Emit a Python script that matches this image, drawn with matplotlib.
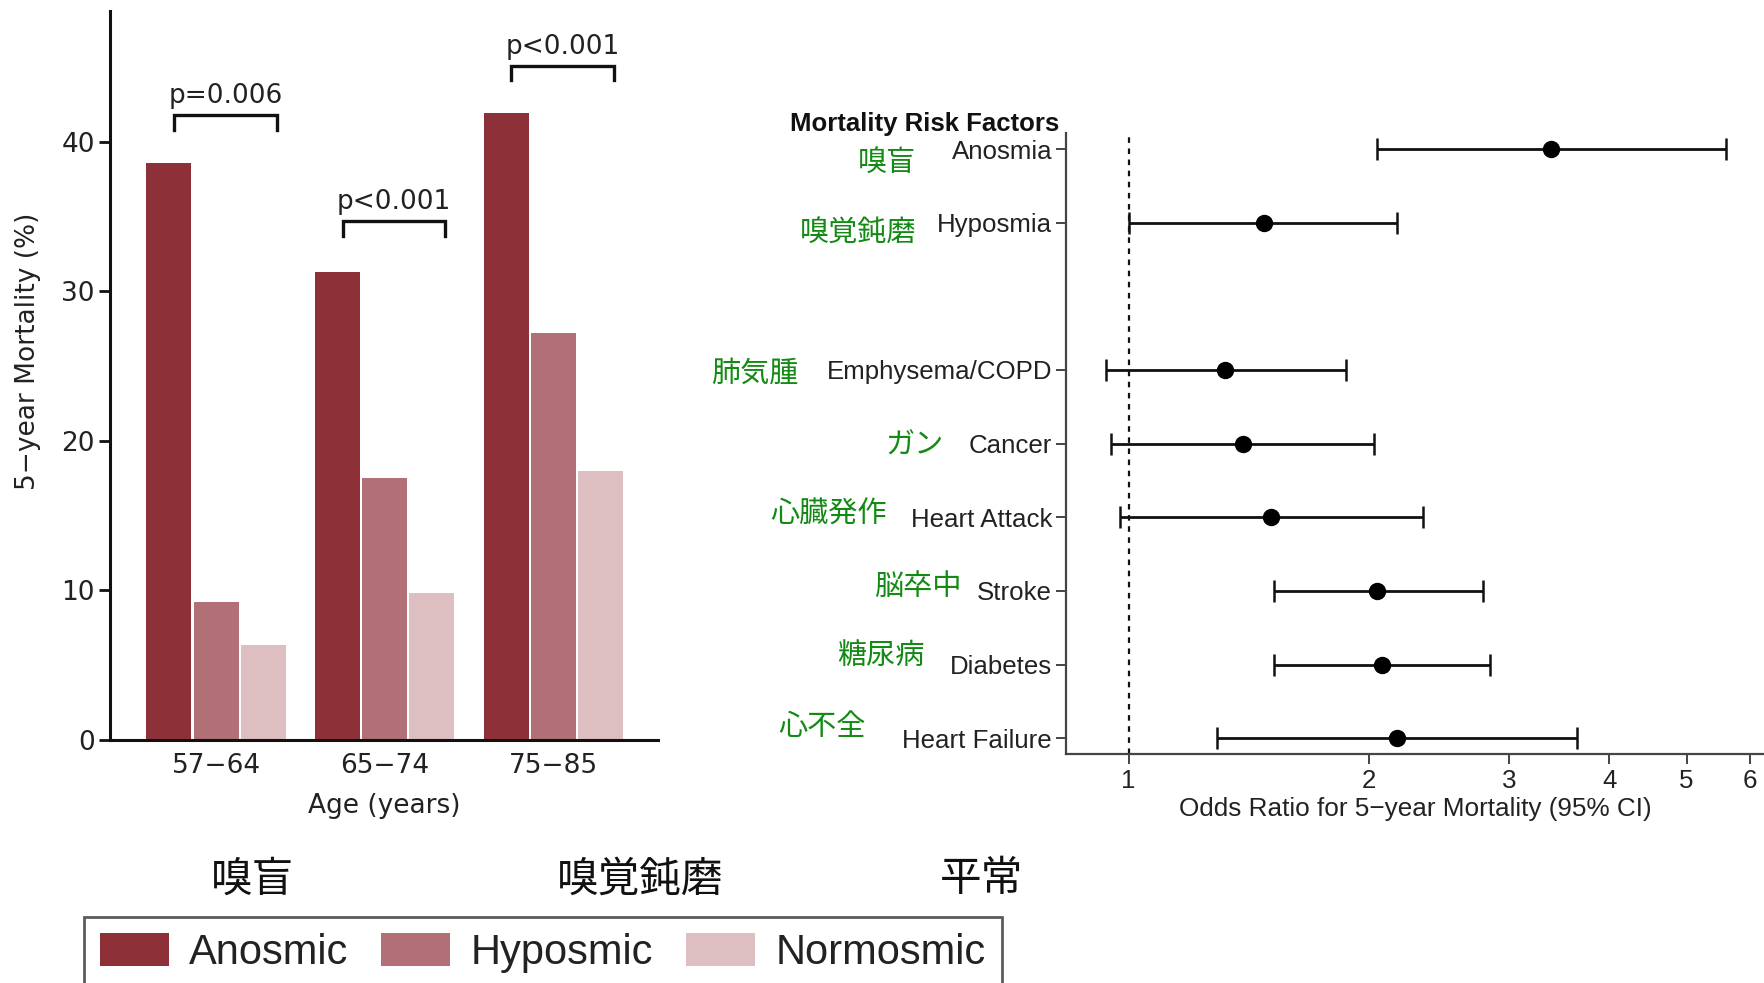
import numpy as np
import matplotlib
matplotlib.use("Agg")
import matplotlib.pyplot as plt
from matplotlib.patches import Patch

# ---------------- data ----------------
age_groups = ["57\u221264", "65\u221274", "75\u221285"]
anosmic = [38.6, 31.3, 41.9]
hyposmic = [9.2, 17.5, 27.2]
normosmic = [6.3, 9.8, 18.0]
p_labels = ["p=0.006", "p<0.001", "p<0.001"]
bracket_heights = [41.8, 34.7, 45.1]

group_names = ["Anosmic", "Hyposmic", "Normosmic"]
group_names_jp = ["嗅盲", "嗅覚鈍磨", "平常"]

factors = ["Anosmia", "Hyposmia", "Emphysema/COPD", "Cancer", "Heart Attack",
           "Stroke", "Diabetes", "Heart Failure"]
factors_jp = ["嗅盲", "嗅覚鈍磨", "肺気腫", "ガン", "心臓発作", "脳卒中", "糖尿病", "心不全"]
factor_rows = [0, 1, 3, 4, 5, 6, 7, 8]
odds_ratio = [3.38, 1.48, 1.32, 1.39, 1.51, 2.05, 2.08, 2.17]
ci_low = [2.05, 1.00, 0.936, 0.952, 0.975, 1.52, 1.52, 1.29]
ci_high = [5.60, 2.17, 1.87, 2.03, 2.34, 2.78, 2.84, 3.64]
or_ticks = [1, 2, 3, 4, 5, 6]

# ---------------- style ----------------
colors = ["#8E3038", "#B07075", "#DDBEC1"]
jp_green = "#138A13"
W, H = 1764, 983
CJK = ["Noto Sans CJK JP", "DejaVu Sans"]

fig = plt.figure(figsize=(W / 100, H / 100), dpi=100)

def fx(px):
    return px / W

def fy(py):
    return 1 - py / H

# ---------------- left panel: bar chart ----------------
axL = fig.add_axes([fx(110), fy(739.5), fx(657.6 - 110), (739.5 - 11) / H])
x = np.arange(len(age_groups))
step = 0.279
bw = 0.267
for i, vals in enumerate([anosmic, hyposmic, normosmic]):
    axL.bar(x + (i - 1) * step, vals, width=bw, color=colors[i],
            edgecolor="none", zorder=2)

axL.set_xlim(-0.629, 2.62)
axL.set_ylim(0, 48.75)
axL.set_yticks([0, 10, 20, 30, 40])
axL.set_xticks(x)
axL.set_xticklabels(age_groups)
for s in ["top", "right"]:
    axL.spines[s].set_visible(False)
for s in ["left", "bottom"]:
    axL.spines[s].set_linewidth(2.2)
    axL.spines[s].set_color("#111111")
axL.tick_params(axis="y", length=8, width=2.0, labelsize=19, pad=3,
                labelcolor="#222222", color="#111111")
axL.tick_params(axis="x", length=0, labelsize=19, pad=10, labelcolor="#222222")
for lab in axL.get_xticklabels() + axL.get_yticklabels():
    lab.set_family("DejaVu Sans")
axL.set_ylabel("5\u2212year Mortality (%)", fontsize=19, family="DejaVu Sans",
               color="#222222")
axL.yaxis.set_label_coords(-0.126, 0.533)
axL.set_xlabel("Age (years)", fontsize=19, family="DejaVu Sans", color="#222222",
               labelpad=10)

# significance brackets between anosmic and normosmic bars
for i, (lab, h) in enumerate(zip(p_labels, bracket_heights)):
    x0 = x[i] - step + 0.03
    x1 = x[i] + step + 0.08
    axL.plot([x0, x0, x1, x1], [h - 1.0, h, h, h - 1.0], color="#111111",
             lw=2.4, solid_joinstyle="miter", clip_on=False)
    axL.text((x0 + x1) / 2, h + 0.4, lab, ha="center", va="bottom", fontsize=19,
             family="DejaVu Sans", color="#222222", clip_on=False)

# ---------------- right panel: forest plot ----------------
axR = fig.add_axes([fx(1066), fy(754), fx(W - 1066), (754 - 133) / H])
rows = np.array(factor_rows)
orr = np.array(odds_ratio)
xerr = np.vstack([orr - np.array(ci_low), np.array(ci_high) - orr])
axR.errorbar(orr, rows, xerr=xerr, fmt="o", color="black", ecolor="#111111",
             elinewidth=2.0, capsize=8, capthick=1.8, markersize=11.5, zorder=3)
axR.axvline(1, color="#111111", lw=1.6, ls=(0, (2.5, 2.5)), zorder=1)
axR.set_xscale("log")
axR.set_xlim(0.835, 6.25)
axR.set_ylim(8.214, -0.218)
axR.set_xticks(or_ticks)
axR.set_xticklabels([str(t) for t in or_ticks])
axR.xaxis.set_minor_locator(matplotlib.ticker.NullLocator())
axR.set_yticks(rows)
axR.set_yticklabels(factors)
for s in ["top", "right"]:
    axR.spines[s].set_visible(False)
for s in ["left", "bottom"]:
    axR.spines[s].set_linewidth(1.6)
    axR.spines[s].set_color("#444444")
axR.tick_params(axis="both", length=7, width=1.4, color="#444444",
                labelsize=18.6, labelcolor="#222222")
axR.tick_params(axis="y", pad=3)
axR.tick_params(axis="x", pad=4)
for lab in axR.get_xticklabels() + axR.get_yticklabels():
    lab.set_family("Liberation Sans")
axR.set_xlabel("Odds Ratio for 5\u2212year Mortality (95% CI)", fontsize=18.8,
               family="Liberation Sans", color="#222222", labelpad=3)
fig.text(fx(1059), fy(124), "Mortality Risk Factors", ha="right", va="center",
         fontsize=18.5, fontweight="bold", family="Liberation Sans", color="#111111")

# Japanese translations of the risk factors
jp_right = [916, 916, 798, 944, 887, 961, 924, 866]
jp_center = [163, 234, 374, 446, 515, 587, 656, 727]
for name, xr, yc in zip(factors_jp, jp_right, jp_center):
    fig.text(fx(xr), fy(yc), name, ha="right", va="center", fontsize=21,
             family=CJK, color=jp_green)

# ---------------- legend ----------------
handles = [Patch(facecolor=c, edgecolor="none") for c in colors]
leg = fig.legend(handles, group_names, loc="upper left",
                 bbox_to_anchor=(fx(84), fy(917)), ncol=3,
                 prop={"family": "Liberation Sans", "size": 30},
                 frameon=True, fancybox=False, edgecolor="#333333",
                 handlelength=1.65, handleheight=0.84, handletextpad=0.5,
                 columnspacing=0.78, borderpad=0.38, borderaxespad=0)
leg.get_frame().set_linewidth(2.0)
for t in leg.get_texts():
    t.set_color("#222222")

for name, xc in zip(group_names_jp, [253, 640, 982]):
    fig.text(fx(xc), fy(880), name, ha="center", va="center", fontsize=30,
             family=CJK, color="#111111")

fig.savefig("out.png", dpi=100)
